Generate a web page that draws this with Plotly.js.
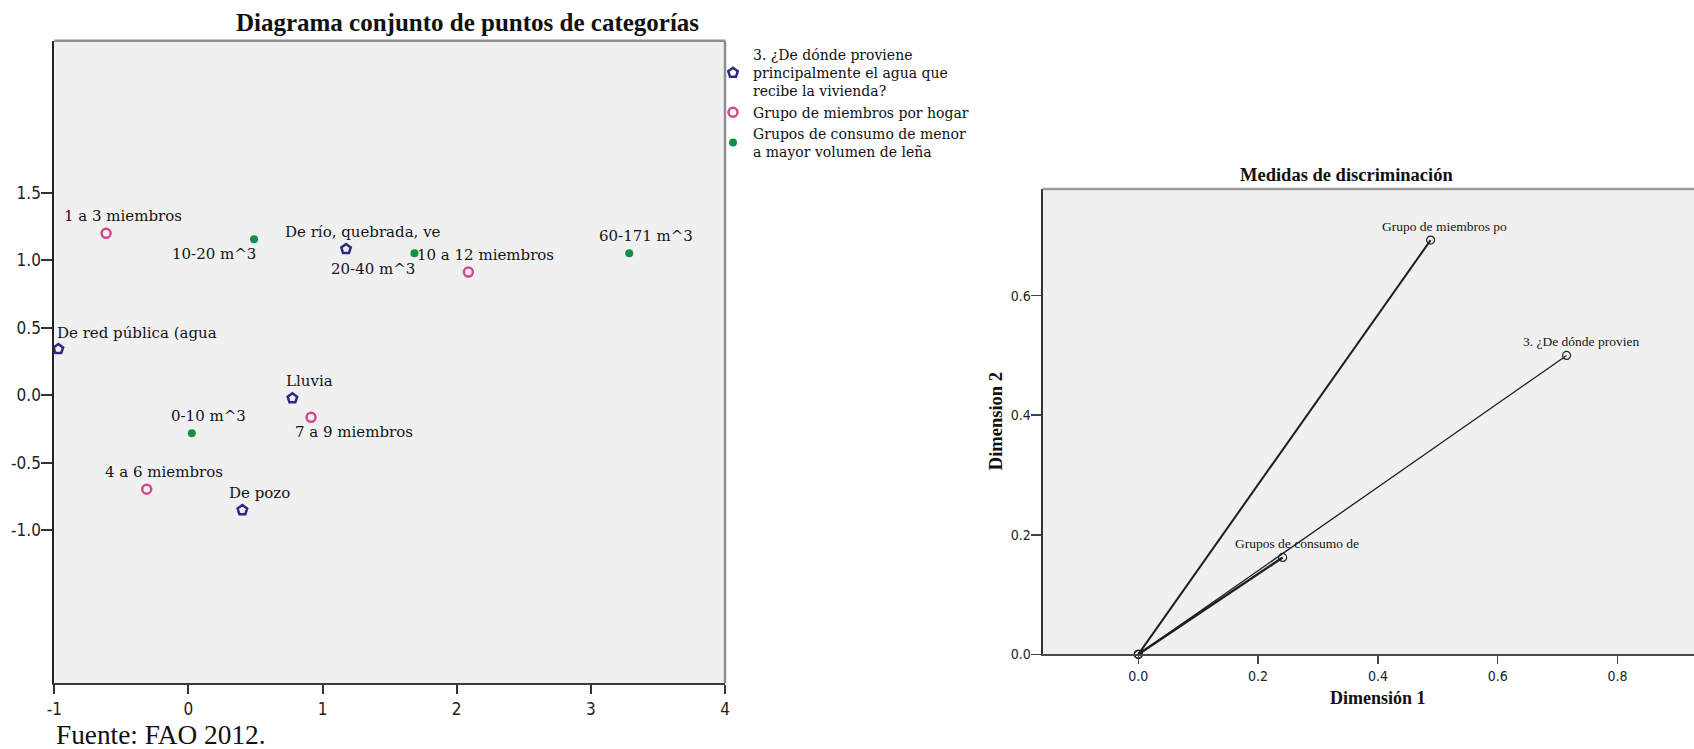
<!DOCTYPE html>
<html>
<head>
<meta charset="utf-8">
<script src="https://cdn.plot.ly/plotly-3.0.1.min.js"></script>
<style>html,body{margin:0;padding:0;background:#fff;}</style>
</head>
<body>
<div id="chart" style="width:1694px;height:749px;"></div>
<script>
// ---------- Data: left chart (joint plot of category points) ----------
const seriesNames = [
  "3. ¿De dónde proviene<br>principalmente el agua que<br>recibe la vivienda?",
  "Grupo de miembros por hogar",
  "Grupos de consumo de menor<br>a mayor volumen de leña"
];
const waterLabels = ["De río, quebrada, ve", "De red pública (agua", "Lluvia", "De pozo"];
const waterDim1 = [1.175, -0.970, 0.775, 0.402];
const waterDim2 = [1.084, 0.343, -0.022, -0.850];

const memberLabels = ["1 a 3 miembros", "10 a 12 miembros", "7 a 9 miembros", "4 a 6 miembros"];
const memberDim1 = [-0.614, 2.087, 0.914, -0.311];
const memberDim2 = [1.200, 0.913, -0.163, -0.696];

const woodLabels = ["10-20 m^3", "20-40 m^3", "60-171 m^3", "0-10 m^3"];
const woodDim1 = [0.489, 1.685, 3.286, 0.025];
const woodDim2 = [1.156, 1.052, 1.052, -0.281];

const leftXTickVals = [-1, 0, 1, 2, 3, 4];
const leftXTickText = ["-1", "0", "1", "2", "3", "4"];
const leftYTickVals = [-1, -0.5, 0, 0.5, 1, 1.5];
const leftYTickText = ["-1.0", "-0.5", "0.0", "0.5", "1.0", "1.5"];

// ---------- Data: right chart (discrimination measures) ----------
const discVars = ["3. ¿De dónde provien", "Grupo de miembros po", "Grupos de consumo de"];
const discDim1 = [0.715, 0.488, 0.241];
const discDim2 = [0.500, 0.693, 0.162];
const rightXTickVals = [0, 0.2, 0.4, 0.6, 0.8];
const rightXTickText = ["0.0", "0.2", "0.4", "0.6", "0.8"];
const rightYTickVals = [0, 0.2, 0.4, 0.6];
const rightYTickText = ["0.0", "0.2", "0.4", "0.6"];

// ---------- Layout helpers ----------
const W = 1694, H = 749;
const px = v => v / W;
const py = v => 1 - v / H;

const SERIF = "DejaVu Serif, Liberation Serif, serif";
const TIMES = "Liberation Serif, Times New Roman, serif";
const TICKF = "DejaVu Sans Condensed, DejaVu Sans, sans-serif";

const colWater = "#2b2b86";
const colMember = "#cf4a8f";
const colWood = "#129049";

// label placement (style, not data)
const defaultPlace = {xanchor: "center", xshift: 17, yshift: 17};
const labelPlace = {
  "De red pública (agua": {xanchor: "left", xshift: -3, yshift: 16},
  "7 a 9 miembros": {xanchor: "left", xshift: -18, yshift: -15},
  "10-20 m^3": {xanchor: "right", xshift: 4, yshift: -15},
  "20-40 m^3": {xanchor: "right", xshift: 3, yshift: -16}
};

const traces = [
  {
    type: "scatter", mode: "markers", name: seriesNames[0],
    x: waterDim1, y: waterDim2, xaxis: "x", yaxis: "y", cliponaxis: false,
    marker: {symbol: "pentagon-open", size: 10, color: colWater, line: {width: 2.5, color: colWater}}
  },
  {
    type: "scatter", mode: "markers", name: seriesNames[1],
    x: memberDim1, y: memberDim2, xaxis: "x", yaxis: "y", cliponaxis: false,
    marker: {symbol: "circle-open", size: 9, color: colMember, line: {width: 2.5, color: colMember}}
  },
  {
    type: "scatter", mode: "markers", name: seriesNames[2],
    x: woodDim1, y: woodDim2, xaxis: "x", yaxis: "y", cliponaxis: false,
    marker: {symbol: "circle", size: 8, color: colWood, line: {width: 0}}
  }
];

const discWidths = [1.3, 2.0, 2.4];
discVars.forEach((v, i) => {
  traces.push({
    type: "scatter", mode: "lines+markers", name: v, showlegend: false,
    x: [0, discDim1[i]], y: [0, discDim2[i]], xaxis: "x2", yaxis: "y2", cliponaxis: false,
    line: {color: "#1e1e1e", width: discWidths[i]},
    marker: {symbol: "circle-open", size: 8, color: "#222", line: {width: 1.2, color: "#222"}}
  });
});

const annotations = [];
function addLabels(labels, xs, ys) {
  labels.forEach((t, i) => {
    const p = labelPlace[t] || defaultPlace;
    annotations.push({
      text: t, x: xs[i], y: ys[i], xref: "x", yref: "y", showarrow: false,
      xanchor: p.xanchor, yanchor: "middle", xshift: p.xshift, yshift: p.yshift,
      font: {family: SERIF, size: 15, color: "#151515"}
    });
  });
}
addLabels(waterLabels, waterDim1, waterDim2);
addLabels(memberLabels, memberDim1, memberDim2);
addLabels(woodLabels, woodDim1, woodDim2);

discVars.forEach((t, i) => {
  annotations.push({
    text: t, x: discDim1[i], y: discDim2[i], xref: "x2", yref: "y2", showarrow: false,
    xanchor: "center", yanchor: "middle", xshift: 14, yshift: 13.5,
    font: {family: TIMES, size: 13.5, color: "#151515"}
  });
});

annotations.push(
  {text: "Medidas de discriminación", xref: "paper", yref: "paper", x: px(1346.4), y: py(174.5),
   xanchor: "center", yanchor: "middle", showarrow: false,
   font: {family: TIMES, size: 18.5, weight: "bold", color: "#111"}},
  {text: "Dimensión 1", xref: "paper", yref: "paper", x: px(1377.8), y: py(698),
   xanchor: "center", yanchor: "middle", showarrow: false,
   font: {family: TIMES, size: 18, weight: "bold", color: "#111"}},
  {text: "Dimension 2", xref: "paper", yref: "paper", x: px(995.5), y: py(421.7), textangle: -90,
   xanchor: "center", yanchor: "middle", showarrow: false,
   font: {family: TIMES, size: 18.5, weight: "bold", color: "#111"}},
  {text: "Fuente: FAO 2012.", xref: "paper", yref: "paper", x: px(54), y: py(735),
   xanchor: "left", yanchor: "middle", showarrow: false,
   font: {family: TIMES, size: 27.3, color: "#111"}}
);

const borderGray = "#8e8e8e";
const shapes = [
  {type: "line", xref: "x domain", yref: "y domain", x0: 0, x1: 1, y0: 1, y1: 1, line: {color: borderGray, width: 2.5}},
  {type: "line", xref: "x domain", yref: "y domain", x0: 1, x1: 1, y0: 0, y1: 1, line: {color: borderGray, width: 2.5}},
  {type: "line", xref: "x2 domain", yref: "y2 domain", x0: 0, x1: 1, y0: 1, y1: 1, line: {color: "#9a9a9a", width: 2.5}}
];

const layout = {
  width: W, height: H,
  margin: {l: 0, r: 0, t: 0, b: 0},
  paper_bgcolor: "#ffffff",
  plot_bgcolor: "#f0f0f0",
  showlegend: true,
  title: {
    text: "Diagrama conjunto de puntos de categorías",
    x: px(467.5), xanchor: "center", y: py(22), yanchor: "middle",
    font: {family: TIMES, size: 25, weight: "bold", color: "#111"}
  },
  legend: {
    x: px(713), y: py(39), xanchor: "left", yanchor: "top",
    bgcolor: "rgba(0,0,0,0)", borderwidth: 0, valign: "middle",
    font: {family: SERIF, size: 14, color: "#111"}
  },
  xaxis: {
    domain: [px(54.3), px(725)], range: [-1, 4], anchor: "y",
    tickvals: leftXTickVals, ticktext: leftXTickText,
    ticks: "outside", ticklen: 9, tickwidth: 2, tickcolor: "#333",
    showline: true, linecolor: "#3a3a3a", linewidth: 2,
    showgrid: false, zeroline: false, fixedrange: true,
    tickfont: {family: TICKF, size: 17, color: "#222"}
  },
  yaxis: {
    domain: [py(683.3), py(40.7)], range: [-2.133, 2.627], anchor: "x",
    tickvals: leftYTickVals, ticktext: leftYTickText,
    ticks: "outside", ticklen: 11, tickwidth: 2, tickcolor: "#333",
    ticklabelstandoff: -3,
    showline: true, linecolor: "#222", linewidth: 2,
    showgrid: false, zeroline: false, fixedrange: true,
    tickfont: {family: TICKF, size: 17, color: "#222"}
  },
  xaxis2: {
    domain: [px(1042.7), 1], range: [-0.1596, 0.9277], anchor: "y2",
    tickvals: rightXTickVals, ticktext: rightXTickText,
    ticks: "outside", ticklen: 8, tickwidth: 1.5, tickcolor: "#444",
    showline: true, linecolor: "#4a4a4a", linewidth: 2,
    showgrid: false, zeroline: false, fixedrange: true,
    tickfont: {family: TICKF, size: 14, color: "#222"}
  },
  yaxis2: {
    domain: [py(654.3), py(189)], range: [0, 0.7785], anchor: "x2",
    tickvals: rightYTickVals, ticktext: rightYTickText,
    ticks: "outside", ticklen: 10, tickwidth: 1.5, tickcolor: "#444",
    ticklabelstandoff: -3,
    showline: true, linecolor: "#333", linewidth: 2,
    showgrid: false, zeroline: false, fixedrange: true,
    tickfont: {family: TICKF, size: 14, color: "#222"}
  },
  annotations: annotations,
  shapes: shapes
};

Plotly.newPlot("chart", traces, layout, {displayModeBar: false, staticPlot: true});
</script>
</body>
</html>
